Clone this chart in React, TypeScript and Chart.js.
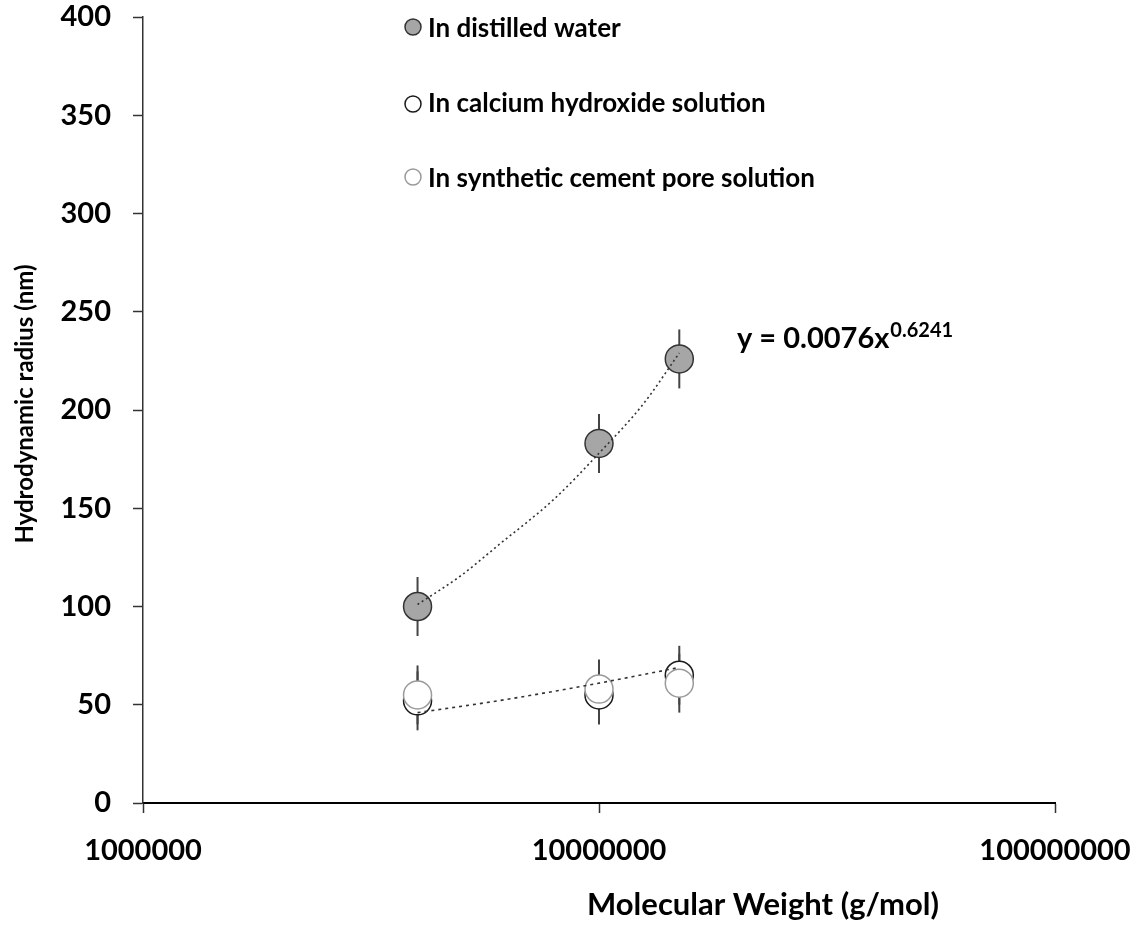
import React, { useEffect, useRef } from "react";
import { Chart, registerables } from "chart.js";

Chart.register(...registerables);

// ---- Data ----
const molecularWeights = [4000000, 10000000, 15000000];

const distilledWater = [100, 183, 226];
const distilledErr = [15, 15, 15];

const calciumHydroxide = [52, 55, 65];
const calciumErr = [15, 15, 15];

const syntheticPore = [55, 58, 61];
const syntheticErr = [15, 15, 15];

// Trend lines (dotted)
const upperTrendX = [4000000, 5000000, 6000000, 8000000, 10000000, 12500000, 15000000];
const upperTrendY = [101, 116, 131, 155, 178, 203, 229];
const lowerTrendX = [4000000, 6000000, 10000000, 15000000];
const lowerTrendY = [46, 52, 61, 69];

const xTickValues = [1000000, 10000000, 100000000];
const yMin = 0;
const yMax = 400;
const yStep = 50;

const legendLabels = [
  "In distilled water",
  "In calcium hydroxide solution",
  "In synthetic cement pore solution",
];
const equationMain = "y = 0.0076x";
const equationExp = "0.6241";
const xTitle = "Molecular Weight (g/mol)";
const yTitle = "Hydrodynamic radius (nm)";

const FONT = "Lato, 'Open Sans', sans-serif";

const DIST_FILL = "#a6a6a6";
const DIST_BORDER = "#333333";
const CALC_BORDER = "#1a1a1a";
const SYN_BORDER = "#9a9a9a";

const errorBarPlugin = {
  id: "errorBars",
  beforeDatasetsDraw(chart: any) {
    const { ctx, scales } = chart;
    const xs = scales.x;
    const ys = scales.y;
    const sets = [
      [distilledWater, distilledErr],
      [calciumHydroxide, calciumErr],
      [syntheticPore, syntheticErr],
    ];
    ctx.save();
    ctx.strokeStyle = "#444";
    ctx.lineWidth = 2;
    sets.forEach(([vals, errs]) => {
      vals.forEach((v: number, i: number) => {
        const px = xs.getPixelForValue(molecularWeights[i]);
        const y1 = ys.getPixelForValue(v - errs[i]);
        const y2 = ys.getPixelForValue(v + errs[i]);
        ctx.beginPath();
        ctx.moveTo(px, y1);
        ctx.lineTo(px, y2);
        ctx.stroke();
      });
    });
    ctx.restore();
  },
};

const textPlugin = {
  id: "texts",
  afterDraw(chart: any) {
    const { ctx } = chart;
    ctx.save();
    // Legend
    const markers = [
      { fill: DIST_FILL, stroke: DIST_BORDER, y: 27 },
      { fill: "#ffffff", stroke: CALC_BORDER, y: 104 },
      { fill: "#ffffff", stroke: SYN_BORDER, y: 177 },
    ];
    const textYs = [28.5, 104, 179];
    markers.forEach((m, i) => {
      ctx.beginPath();
      ctx.arc(413, m.y, 8, 0, Math.PI * 2);
      ctx.fillStyle = m.fill;
      ctx.fill();
      ctx.lineWidth = 1.5;
      ctx.strokeStyle = m.stroke;
      ctx.stroke();
      ctx.fillStyle = "#000";
      ctx.font = `bold 26px ${FONT}`;
      ctx.textAlign = "left";
      ctx.textBaseline = "middle";
      ctx.fillText(legendLabels[i], 428, textYs[i]);
    });

    // Equation
    ctx.textBaseline = "alphabetic";
    ctx.font = `bold 29px ${FONT}`;
    ctx.fillText(equationMain, 737, 348);
    const w = ctx.measureText(equationMain).width;
    ctx.font = `bold 20px ${FONT}`;
    ctx.fillText(equationExp, 737 + w + 1, 337);

    // X title
    ctx.font = `bold 31px ${FONT}`;
    ctx.fillText(xTitle, 587, 915);

    // Y title
    ctx.translate(33, 404);
    ctx.rotate(-Math.PI / 2);
    ctx.font = `bold 24px ${FONT}`;
    ctx.textAlign = "center";
    ctx.textBaseline = "alphabetic";
    ctx.fillText(yTitle, 0, 0);
    ctx.restore();
  },
};

export default function App() {
  const ref = useRef<HTMLCanvasElement | null>(null);

  useEffect(() => {
    if (!ref.current) return;
    const pts = (xs: number[], ys: number[]) => xs.map((x, i) => ({ x, y: ys[i] }));
    const chart = new Chart(ref.current, {
      type: "scatter",
      data: {
        datasets: [
          {
            label: "Upper trend",
            data: pts(upperTrendX, upperTrendY),
            showLine: true,
            borderColor: "#333",
            borderWidth: 1.6,
            borderDash: [2, 3],
            pointRadius: 0,
            cubicInterpolationMode: "monotone",
            fill: false,
            order: 0,
          },
          {
            label: "Lower trend",
            data: pts(lowerTrendX, lowerTrendY),
            showLine: true,
            borderColor: "#333",
            borderWidth: 1.6,
            borderDash: [3, 4],
            pointRadius: 0,
            cubicInterpolationMode: "monotone",
            fill: false,
            order: 0,
          },
          {
            label: legendLabels[2],
            data: pts(molecularWeights, syntheticPore),
            backgroundColor: "#ffffff",
            borderColor: SYN_BORDER,
            borderWidth: 1.5,
            pointRadius: 14,
            order: 1,
          },
          {
            label: legendLabels[1],
            data: pts(molecularWeights, calciumHydroxide),
            backgroundColor: "#ffffff",
            borderColor: CALC_BORDER,
            borderWidth: 1.5,
            pointRadius: 14,
            order: 2,
          },
          {
            label: legendLabels[0],
            data: pts(molecularWeights, distilledWater),
            backgroundColor: DIST_FILL,
            borderColor: DIST_BORDER,
            borderWidth: 1.5,
            pointRadius: 14,
            order: 3,
          },
        ],
      },
      options: {
        animation: false,
        responsive: false,
        events: [],
        layout: { padding: { top: 17, right: 84, left: 0, bottom: 0 } },
        plugins: {
          legend: { display: false },
          tooltip: { enabled: false },
          title: { display: false },
        },
        scales: {
          x: {
            type: "logarithmic",
            min: xTickValues[0],
            max: xTickValues[xTickValues.length - 1],
            afterBuildTicks: (s: any) => {
              s.ticks = xTickValues.map((v) => ({ value: v }));
            },
            afterFit: (s: any) => {
              s.height = 124;
              s.paddingLeft = 0;
              s.paddingRight = 0;
            },
            ticks: {
              callback: (v: any) => String(v),
              font: { family: FONT, size: 29, weight: "bold" },
              color: "#000",
              padding: 20,
              maxRotation: 0,
              autoSkip: false,
            },
            grid: {
              drawOnChartArea: false,
              drawTicks: true,
              tickLength: 10,
              color: "#333",
              tickWidth: 1.5,
            },
            border: { color: "#000", width: 2 },
          },
          y: {
            min: yMin,
            max: yMax,
            afterFit: (s: any) => {
              s.width = 143;
              s.paddingTop = 0;
              s.paddingBottom = 0;
            },
            ticks: {
              stepSize: yStep,
              font: { family: FONT, size: 29, weight: "bold" },
              color: "#000",
              padding: 22,
            },
            grid: {
              drawOnChartArea: false,
              drawTicks: true,
              tickLength: 10,
              color: "#333",
              tickWidth: 1.5,
            },
            border: { color: "#333", width: 1.5 },
          },
        },
      },
      plugins: [errorBarPlugin, textPlugin],
    } as any);
    return () => chart.destroy();
  }, []);

  return (
    <div style={{ position: "absolute", left: 0, top: 0, width: 1139, height: 927, background: "#fff" }}>
      <canvas ref={ref} width={1139} height={927} style={{ display: "block" }} />
    </div>
  );
}
